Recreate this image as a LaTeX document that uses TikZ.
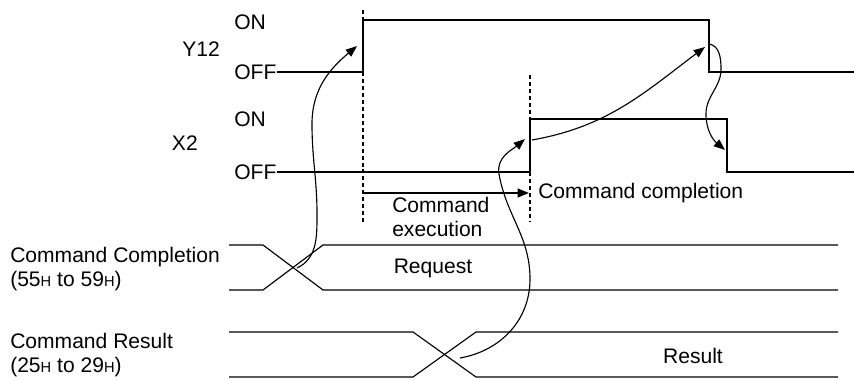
\documentclass[tikz,border=0pt]{standalone}
\usepackage{fontspec}
\setmainfont{Liberation Sans}
\usetikzlibrary{arrows.meta}
\tikzstyle{sigtext} = [font=\fontsize{15.8pt}{17.5pt}\selectfont, inner sep=0pt]
\tikzstyle{signal} = [line width=0.85pt]
\tikzstyle{timing} = [line width=0.85pt, dash pattern=on 3pt off 2.2pt]
\tikzstyle{arrow} = [line width=0.85pt, -{Triangle[length=8.5pt,width=6.5pt]}]
\tikzstyle{span} = [line width=1.4pt, -{Triangle[length=8.5pt,width=6.5pt]}]
\newcommand{\hsub}{{\fontsize{11pt}{12pt}\selectfont H}}

\begin{document}
\begin{tikzpicture}[x=0.75pt, y=0.75pt]

\useasboundingbox (0,0) rectangle (854,379);

\node (y12) [sigtext, anchor=east] at (220,330) {Y12};
\node (y12on) [sigtext, anchor=west] at (234,357) {ON};
\node (y12off) [sigtext, anchor=west] at (234,307) {OFF};
\node (x2) [sigtext, anchor=east] at (198,236) {X2};
\node (x2on) [sigtext, anchor=west] at (234,260) {ON};
\node (x2off) [sigtext, anchor=west] at (234,207) {OFF};

\coordinate (y12up) at (363,307);
\coordinate (y12down) at (709,359);
\coordinate (y12end) at (854,307);
\coordinate (x2up) at (530,207);
\coordinate (x2down) at (727,260);
\coordinate (x2end) at (854,207);

\draw [signal] (y12off.east) -- (y12up) |- (y12down) |- (y12end);
\draw [signal] (x2off.east) -- (x2up) |- (x2down) |- (x2end);

\draw [timing] (363,369) -- (363,157);
\draw [timing] (530,304) -- (530,157);

\coordinate (execStart) at (364,186);
\coordinate (execEnd) at (529,186);
\draw [span] (execStart) -- (execEnd);
\node (completion) [sigtext, anchor=west] at (538,186) {Command completion};
\node (execution) [sigtext, anchor=west, align=left] at (392,162) {Command\\execution};

\node (cmdComp) [sigtext, anchor=west, align=left] at (10,110) {Command Completion\\(55\hsub{} to 59\hsub)};
\draw [signal] (229,134) -- (263,134) -- (323,89) -- (838,89);
\draw [signal] (229,89) -- (263,89) -- (323,134) -- (838,134);
\node (request) [sigtext] at (433,111) {Request};

\node (cmdRes) [sigtext, anchor=west, align=left] at (10,24) {Command Result\\(25\hsub{} to 29\hsub)};
\draw [signal] (229,47) -- (413,47) -- (476,2) -- (838,2);
\draw [signal] (229,2) -- (413,2) -- (476,47) -- (838,47);
\node (result) [sigtext] at (693,23) {Result};

\coordinate (reqCross) at (297,111);
\coordinate (y12Tip) at (357,333);
\coordinate (resCross) at (460,21);
\coordinate (x2Tip) at (525,240);
\coordinate (x2Start) at (532,239);
\coordinate (y12Tip2) at (705,332);
\coordinate (y12Start) at (709,335);
\coordinate (x2Tip2) at (725,229);

\draw [arrow] (reqCross) to[out=25,in=-90] (317,165) to[out=90,in=-90] (312,255) to[out=90,in=220] (y12Tip);
\draw [arrow] (resCross) to[out=10,in=-90] (530,100) to[out=90,in=-80] (499,205) to[out=100,in=220] (x2Tip);
\draw [arrow] (x2Start) to[out=10,in=217] (y12Tip2);
\draw [arrow] (y12Start) to[out=-10,in=90] (721,310) to[out=-90,in=90] (706,265) to[out=-90,in=140] (x2Tip2);

\end{tikzpicture}
\end{document}
